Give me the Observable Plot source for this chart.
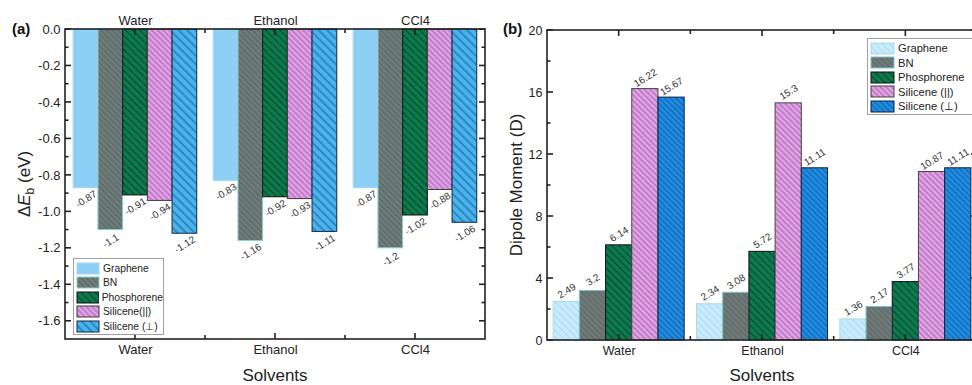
<!DOCTYPE html>
<html><head><meta charset="utf-8">
<script src="https://cdn.jsdelivr.net/npm/d3@7"></script>
<script src="https://cdn.jsdelivr.net/npm/@observablehq/plot@0.6"></script>
<style>
html,body{margin:0;padding:0;background:#fff;overflow:hidden}
#wrap{position:relative;width:972px;height:385px;overflow:hidden;font-family:"Liberation Sans",Arial,Helvetica,sans-serif;background:#fff}
.legend{position:absolute;background:#fff;border:1px solid #a0a0a0;color:#222;box-sizing:border-box}
.legend .row{display:flex;align-items:center}
.legend svg{display:block}
</style></head>
<body>
<svg id="defs" width="0" height="0" style="position:absolute"><defs></defs></svg>
<div id="wrap"></div>
<script>
// ---------- data ----------
const solvents = ["Water", "Ethanol", "CCl4"];
const materials = ["Graphene", "BN", "Phosphorene", "Silicene(||)", "Silicene (⊥)"];
const legendLabelsA = ["Graphene", "BN", "Phosphorene", "Silicene(||)", "Silicene (⊥)"];
const legendLabelsB = ["Graphene", "BN", "Phosphorene", "Silicene (||)", "Silicene (⊥)"];

// binding energy ΔE_b (eV), per solvent [Water, Ethanol, CCl4]
const bindingGraphene = [-0.87, -0.83, -0.87];
const bindingBN = [-1.1, -1.16, -1.2];
const bindingPhosphorene = [-0.91, -0.92, -1.02];
const bindingSiliceneParallel = [-0.94, -0.93, -0.88];
const bindingSilicenePerp = [-1.12, -1.11, -1.06];

// dipole moment (D), per solvent [Water, Ethanol, CCl4]
const dipoleGraphene = [2.49, 2.34, 1.36];
const dipoleBN = [3.2, 3.08, 2.17];
const dipolePhosphorene = [6.14, 5.72, 3.77];
const dipoleSiliceneParallel = [16.22, 15.3, 10.87];
const dipoleSilicenePerp = [15.67, 11.11, 11.11];

const yTicksA = [0, -0.2, -0.4, -0.6, -0.8, -1.0, -1.2, -1.4, -1.6];
const yMinorA = [-0.1, -0.3, -0.5, -0.7, -0.9, -1.1, -1.3, -1.5];
const yTicksB = [0, 4, 8, 12, 16, 20];
const yMinorB = [2, 6, 10, 14, 18];

// ---------- styles ----------
const FONT = '"Liberation Sans", Arial, Helvetica, sans-serif';
const styleA = {
  "Graphene":     {bg: "#8ed0f5", line: null,      sp: 5, lw: 1,   stroke: "#9ed6f3"},
  "BN":           {bg: "#6f7e7b", line: "#56625f", sp: 4, lw: 1.1, stroke: "#8ccfd3"},
  "Phosphorene":  {bg: "#0b7a4c", line: "#05432a", sp: 5, lw: 1,   stroke: "#111"},
  "Silicene(||)": {bg: "#e6a0ec", line: "#80508a", sp: 4, lw: 0.8, stroke: "#3a3a3a"},
  "Silicene (⊥)": {bg: "#48b4ef", line: "#1b4e78", sp: 6, lw: 0.9, stroke: "#13264a"}
};
const styleB = {
  "Graphene":     {bg: "#c9eaf8", line: "#a9dcf1", sp: 5, lw: 1,   stroke: "#a6dbe9"},
  "BN":           {bg: "#6f7b79", line: "#5a6563", sp: 4, lw: 1.1, stroke: "#7cc6ca"},
  "Phosphorene":  {bg: "#0c7a4e", line: "#05452b", sp: 5, lw: 1,   stroke: "#111"},
  "Silicene(||)": {bg: "#e8a3eb", line: "#7c4c82", sp: 4, lw: 0.8, stroke: "#444"},
  "Silicene (⊥)": {bg: "#1f8fe8", line: "#0d4f8c", sp: 4, lw: 0.9, stroke: "#0f2040"}
};

const defs = d3.select("#defs defs");
function patId(prefix, j) { return prefix + j; }
function addPattern(id, s) {
  const p = defs.append("pattern").attr("id", id).attr("patternUnits", "userSpaceOnUse")
    .attr("width", s.sp).attr("height", s.sp).attr("patternTransform", "rotate(-45)");
  p.append("rect").attr("width", s.sp).attr("height", s.sp).attr("fill", s.bg);
  if (s.line) p.append("line").attr("x1", s.sp / 2).attr("x2", s.sp / 2).attr("y1", -1).attr("y2", s.sp + 1)
    .attr("stroke", s.line).attr("stroke-width", s.lw);
}
materials.forEach((m, j) => { addPattern(patId("pA", j), styleA[m]); addPattern(patId("pB", j), styleB[m]); });

function buildRows(series) {
  const out = [];
  solvents.forEach((s, i) => materials.forEach((m, j) => out.push({solvent: s, material: m, value: series[j][i]})));
  return out;
}
const rowsA = buildRows([bindingGraphene, bindingBN, bindingPhosphorene, bindingSiliceneParallel, bindingSilicenePerp]);
const rowsB = buildRows([dipoleGraphene, dipoleBN, dipolePhosphorene, dipoleSiliceneParallel, dipoleSilicenePerp]);

function fmtTick1(d) { return d.toFixed(1).replace("−", "-"); }

const wrap = d3.select("#wrap");

// ---------- panel (a) ----------
const chartA = Plot.plot({
  width: 490, height: 385,
  marginLeft: 65, marginRight: 5, marginTop: 29, marginBottom: 46,
  style: {fontFamily: FONT, fontSize: "13px", color: "#222", background: "transparent"},
  facet: {data: rowsA, x: "solvent"},
  fx: {domain: solvents, padding: 0, round: false, axis: "both", tickSize: 0, tickPadding: 5, label: null},
  x: {domain: materials, paddingInner: 0, paddingOuter: 0.334, round: false, axis: null},
  y: {domain: [-1.7, 0], ticks: yTicksA, tickFormat: fmtTick1, tickSize: 0, tickPadding: 5, label: null},
  color: {type: "identity"},
  marks: [
    Plot.barY(rowsA, {x: "material", y: "value",
      fill: d => `url(#${patId("pA", materials.indexOf(d.material))})`,
      stroke: d => styleA[d.material].stroke, strokeWidth: 1}),
    Plot.text(rowsA, {x: "material", y: "value", text: d => String(d.value), rotate: -32, dy: 11,
      fontSize: 10, fill: "#333"})
  ]
});
chartA.style.position = "absolute"; chartA.style.left = "0px"; chartA.style.top = "0px";
wrap.node().appendChild(chartA);

// ---------- panel (b) ----------
const chartB = Plot.plot({
  width: 492, height: 385,
  marginLeft: 57, marginRight: 5, marginTop: 30, marginBottom: 45,
  style: {fontFamily: FONT, fontSize: "12.5px", color: "#222", background: "transparent"},
  facet: {data: rowsB, x: "solvent"},
  fx: {domain: solvents, padding: 0, round: false, axis: "bottom", tickSize: 0, tickPadding: 6, label: null},
  x: {domain: materials, paddingInner: 0, paddingOuter: 0.235, round: false, axis: null},
  y: {domain: [0, 20], ticks: yTicksB, tickFormat: d => String(d), tickSize: 0, tickPadding: 5, label: null},
  color: {type: "identity"},
  marks: [
    Plot.barY(rowsB, {x: "material", y: "value",
      fill: d => `url(#${patId("pB", materials.indexOf(d.material))})`,
      stroke: d => styleB[d.material].stroke, strokeWidth: 1}),
    Plot.text(rowsB, {x: "material", y: "value", text: d => String(d.value), rotate: -32, dy: -11,
      fontSize: 10, fill: "#333"})
  ]
});
chartB.style.position = "absolute"; chartB.style.left = "490px"; chartB.style.top = "0px";
wrap.node().appendChild(chartB);

// ---------- overlay: frames, inward ticks and titles, positioned with Plot's own scales ----------
const ov = wrap.append("svg").attr("width", 972).attr("height", 385)
  .style("position", "absolute").style("left", "0px").style("top", "0px").style("pointer-events", "none");

function drawFrame(chart, offsetX, yMajor, yMinor) {
  const ys = chart.scale("y"), fs = chart.scale("fx");
  const y = d3.scaleLinear().domain(ys.domain).range(ys.range);
  const fx = d3.scaleBand().domain(fs.domain).range(fs.range)
    .paddingInner(fs.paddingInner || 0).paddingOuter(fs.paddingOuter || 0).align(fs.align ?? 0.5);
  const xl = Math.min(...fs.range), xr = Math.max(...fs.range);
  const yt = Math.min(...ys.range), yb = Math.max(...ys.range);
  const g = ov.append("g").attr("transform", `translate(${offsetX},0)`)
    .attr("stroke", "#222").attr("stroke-width", 1.6).attr("fill", "none");
  const ln = (x1, y1, x2, y2) => g.append("line").attr("x1", x1).attr("y1", y1).attr("x2", x2).attr("y2", y2);
  g.append("rect").attr("x", xl).attr("y", yt).attr("width", xr - xl).attr("height", yb - yt);
  yMajor.forEach(v => { ln(xl, y(v), xl + 6, y(v)); ln(xr, y(v), xr - 6, y(v)); });
  yMinor.forEach(v => { ln(xl, y(v), xl + 3.5, y(v)); ln(xr, y(v), xr - 3.5, y(v)); });
  fx.domain().forEach((d, i) => {
    const c = fx(d) + fx.bandwidth() / 2;
    ln(c, yb, c, yb - 6); ln(c, yt, c, yt + 6);
    if (i > 0) { const b = fx(d); ln(b, yb, b, yb - 4); ln(b, yt, b, yt + 4); }
  });
  return g;
}
drawFrame(chartA, 0, yTicksA, yMinorA);
drawFrame(chartB, 490, yTicksB, yMinorB);

const txt = (x, y, s, size, extra = {}) => {
  const t = ov.append("text").attr("x", x).attr("y", y).attr("font-size", size)
    .attr("font-family", FONT).attr("fill", extra.fill || "#222").text(s);
  if (extra.bold) t.attr("font-weight", "bold");
  if (extra.anchor) t.attr("text-anchor", extra.anchor);
  return t;
};
txt(12, 34, "(a)", 15, {bold: true, fill: "#111"});
txt(503, 34, "(b)", 15, {bold: true, fill: "#111"});
txt(275, 381, "Solvents", 17, {anchor: "middle"});
txt(762, 381, "Solvents", 17, {anchor: "middle"});
const ttlA = ov.append("text").attr("transform", "translate(30,184) rotate(-90)").attr("text-anchor", "middle")
  .attr("font-size", 17).attr("font-family", FONT).attr("fill", "#222");
ttlA.append("tspan").text("Δ");
ttlA.append("tspan").attr("font-style", "italic").text("E");
ttlA.append("tspan").attr("font-size", 12).attr("dy", 4).text("b");
ttlA.append("tspan").attr("dy", -4).text(" (eV)");
ov.append("text").attr("transform", "translate(522,185) rotate(-90)").attr("text-anchor", "middle")
  .attr("font-size", 17).attr("font-family", FONT).attr("fill", "#222").text("Dipole Moment (D)");

// ---------- legends ----------
function legend(cfg) {
  const box = wrap.append("div").attr("class", "legend")
    .style("left", cfg.left + "px").style("top", cfg.top + "px")
    .style("width", cfg.width + "px").style("padding", "2px 0 0 2px")
    .style("font-size", cfg.fontSize + "px");
  cfg.labels.forEach((lab, j) => {
    const row = box.append("div").attr("class", "row").style("height", cfg.rowH + "px");
    const sw = row.append("svg").attr("width", cfg.swW + 2).attr("height", cfg.swH + 2).style("margin-right", "3px");
    sw.append("rect").attr("x", 1).attr("y", 1).attr("width", cfg.swW).attr("height", cfg.swH)
      .attr("fill", `url(#${patId(cfg.prefix, j)})`).attr("stroke", cfg.styles[materials[j]].stroke).attr("stroke-width", 1);
    row.append("span").text(lab);
  });
}
legend({left: 73, top: 258, width: 91, rowH: 14.5, swW: 22, swH: 11, fontSize: 10.3, labels: legendLabelsA, prefix: "pA", styles: styleA});
legend({left: 867, top: 38, width: 110, rowH: 14.5, swW: 23, swH: 11, fontSize: 11.2, labels: legendLabelsB, prefix: "pB", styles: styleB});
</script>
</body></html>
